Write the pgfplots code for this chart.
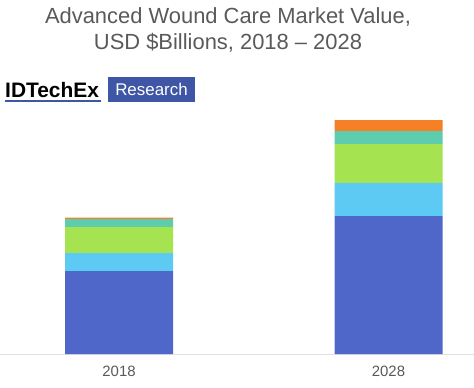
\documentclass[border=0pt]{standalone}
\usepackage{pgfplots}
\pgfplotsset{compat=1.18}
\usepackage{fontspec}
\setmainfont{Liberation Sans}
\definecolor{cDark}{HTML}{4F67C8}
\definecolor{cLight}{HTML}{5CCAF2}
\definecolor{cGreen}{HTML}{A6E350}
\definecolor{cTeal}{HTML}{5DCDAE}
\definecolor{cOrange}{HTML}{F58025}
\definecolor{cLogo}{HTML}{3F55A5}
\definecolor{cText}{HTML}{595959}
\begin{document}
\begin{tikzpicture}[x=1bp,y=1bp]
\path[use as bounding box] (0,-33) rectangle (474,354);
\begin{axis}[
  at={(0,0)}, anchor=south west,
  scale only axis, width=474bp, height=240bp,
  xmin=-0.4416, xmax=1.3173, ymin=0, ymax=24,
  ybar stacked, bar width=108bp,
  axis y line=none, axis x line=bottom,
  x axis line style={-, draw=black!12, line width=0.8pt},
  xtick={0,1}, xticklabels={2018,2028},
  ytick=\empty, major tick length=0pt,
  xticklabel style={text=cText, font=\fontsize{15}{17}\selectfont, yshift=-9bp},
  clip=false,
]
\addplot[fill=cDark, draw=none] coordinates {(0,8.3) (1,13.8)};
\addplot[fill=cLight, draw=none] coordinates {(0,1.8) (1,3.3)};
\addplot[fill=cGreen, draw=none] coordinates {(0,2.6) (1,3.9)};
\addplot[fill=cTeal, draw=none] coordinates {(0,0.8) (1,1.3)};
\addplot[fill=cOrange, draw=none] coordinates {(0,0.15) (1,1.1)};
\end{axis}
\node[text=cText, font=\fontsize{22}{26}\selectfont, align=center] at (228,324) {Advanced Wound Care Market Value,\\USD \$Billions, 2018 -- 2028};
\node[anchor=base west, inner sep=0pt, font=\fontsize{21}{24}\selectfont\bfseries] at (5,257) {IDTechEx};
\fill[cLogo] (5,252.5) rectangle (101,254.5);
\fill[cLogo] (108,252) rectangle (195,277);
\node[text=white, font=\fontsize{17}{20}\selectfont] at (151.5,264.5) {Research};
\end{tikzpicture}
\end{document}
